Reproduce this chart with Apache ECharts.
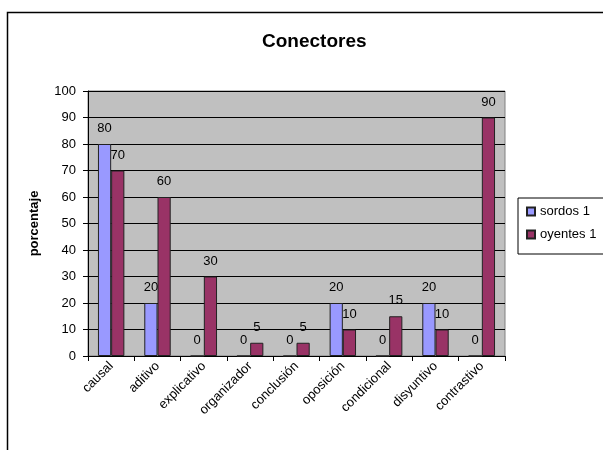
<!DOCTYPE html>
<html>
<head>
<meta charset="utf-8">
<script src="https://cdn.jsdelivr.net/npm/echarts@6/dist/echarts.min.js"></script>
<style>
  html, body { margin: 0; padding: 0; background: #fff; }
  #chart { width: 603px; height: 450px; }
</style>
</head>
<body>
<div id="chart"></div>
<script>
// Connector types and percentages per group
const categories = ['causal', 'aditivo', 'explicativo', 'organizador', 'conclusión', 'oposición', 'condicional', 'disyuntivo', 'contrastivo'];
const sordos = [80, 20, 0, 0, 0, 20, 0, 20, 0];
const oyentes = [70, 60, 30, 5, 5, 10, 15, 10, 90];
const seriesNames = ['sordos 1', 'oyentes 1'];
const yTicks = { min: 0, max: 100, step: 10 };

const FONT = '"Liberation Sans", Arial, sans-serif';
const chart = echarts.init(document.getElementById('chart'), null, { renderer: 'canvas' });

const labelStyle = {
  show: true,
  position: 'top',
  distance: 9,
  color: '#000',
  fontFamily: FONT,
  fontSize: 13
};

chart.setOption({
  animation: false,
  backgroundColor: '#fff',
  title: {
    text: 'Conectores',
    left: 257,
    top: 27,
    textStyle: { fontFamily: FONT, fontSize: 19, fontWeight: 'bold', color: '#000' }
  },
  graphic: [{
    type: 'rect',
    shape: { x: 7.5, y: 12.5, width: 640, height: 480 },
    style: { fill: 'none', stroke: '#000', lineWidth: 1.5 },
    silent: true,
    z: -1
  }],
  legend: {
    orient: 'vertical',
    left: 518,
    top: 198,
    padding: [7, 20, 13, 8],
    itemGap: 10,
    itemWidth: 8,
    itemHeight: 8,
    backgroundColor: '#fff',
    borderColor: '#000',
    borderWidth: 1,
    icon: 'rect',
    textStyle: { fontFamily: FONT, fontSize: 13, color: '#000' },
    data: seriesNames
  },
  grid: {
    left: 88,
    right: 98,
    top: 91,
    bottom: 94,
    show: true,
    backgroundColor: '#C0C0C0',
    borderColor: '#808080',
    borderWidth: 1
  },
  xAxis: {
    type: 'category',
    data: categories,
    boundaryGap: true,
    axisLine: { show: true, lineStyle: { color: '#000', width: 1 } },
    axisTick: { show: true, inside: false, length: 5, alignWithLabel: false, lineStyle: { color: '#000' } },
    axisLabel: { rotate: 45, interval: 0, margin: 8, color: '#000', fontFamily: FONT, fontSize: 13 },
    splitLine: { show: false }
  },
  yAxis: {
    type: 'value',
    min: yTicks.min,
    max: yTicks.max,
    interval: yTicks.step,
    name: 'porcentaje',
    nameLocation: 'middle',
    nameGap: 47,
    nameRotate: 90,
    nameTextStyle: { fontFamily: FONT, fontSize: 13, fontWeight: 'bold', color: '#000' },
    axisLine: { show: true, lineStyle: { color: '#000', width: 1 } },
    axisTick: { show: true, inside: false, length: 5, lineStyle: { color: '#000' } },
    axisLabel: { margin: 12, color: '#000', fontFamily: FONT, fontSize: 13 },
    splitLine: { show: true, lineStyle: { color: '#000', width: 1 } }
  },
  series: [
    {
      name: seriesNames[0],
      type: 'bar',
      data: sordos,
      barGap: '0%',
      barCategoryGap: '43%',
      itemStyle: { color: '#9999FF', borderColor: '#222', borderWidth: 1 },
      label: labelStyle
    },
    {
      name: seriesNames[1],
      type: 'bar',
      data: oyentes,
      barGap: '0%',
      barCategoryGap: '43%',
      itemStyle: { color: '#993366', borderColor: '#222', borderWidth: 1 },
      label: labelStyle
    }
  ]
});
</script>
</body>
</html>
